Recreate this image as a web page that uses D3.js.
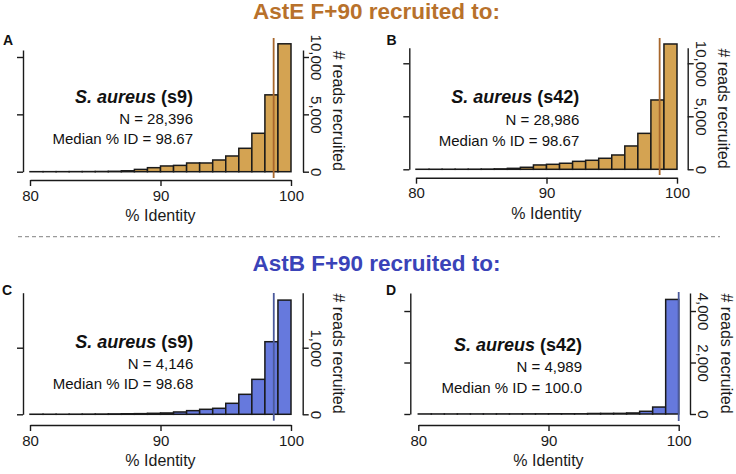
<!DOCTYPE html>
<html><head><meta charset="utf-8">
<script src="https://cdn.jsdelivr.net/npm/d3@7"></script>
<style>
html,body{margin:0;padding:0;background:#fff;}
svg{display:block;font-family:"Liberation Sans",Arial,Helvetica,sans-serif;}
</style></head>
<body>
<svg id="chart" width="736" height="474"></svg>
<script>
// ---------------- data ----------------
const binStarts = [80,81,82,83,84,85,86,87,88,89,90,91,92,93,94,95,96,97,98,99];
const binWidth = 1;
const countsA = [3,4,6,8,12,20,35,80,200,350,500,550,760,760,1020,1370,2040,3350,6700,11150];
const countsB = [3,4,6,8,12,20,40,90,190,410,470,570,750,850,1040,1350,2200,3390,6540,11820];
const countsC = [1,1,1,2,3,4,6,8,10,15,20,35,55,75,90,165,300,525,1090,1715];
const countsD = [2,2,2,3,3,3,4,4,5,6,8,8,8,20,22,25,40,105,270,4450];
const medians = [98.67, 98.67, 98.68, 100.0];
const panelLetters = ["A","B","C","D"];
const genomeNames = ["(s9)","(s42)","(s9)","(s42)"];
const nLabels = ["28,396","28,986","4,146","4,989"];
const medianLabels = ["98.67","98.67","98.68","100.0"];
const yTicks = [[0,5000,10000],[0,5000,10000],[0,1000],[0,2000,4000]];
const yAxisMax = [10610, 11470, 1826, 4700];
const xTicks = [80,90,100];
const xDomain = [80,100];
const titles = ["AstE F+90 recruited to:", "AstB F+90 recruited to:"];
const xLabel = "% Identity";
const yLabel = "# reads recruited";

// ---------------- layout / style ----------------
const groupStyle = [
  {fill:"#d4a352", median:"#a8672c", title:"#b8712b"},
  {fill:"#6679dd", median:"#4b5a9c", title:"#3a43b8"}
];
const panels = [
  {counts:countsA, g:0, x0:30, x1:291, base:171.7, top:50, lx:23, rx:303, xAxisY:180, letterX:3, letterY:45, textR:193, tY:[102.7,124,144.3], medTop:38, medBot:178, rLab:311, rTitle:333},
  {counts:countsB, g:0, x0:416, x1:677, base:169.3, top:47.7, lx:409.3, rx:687.7, xAxisY:177.7, letterX:386.5, letterY:45, textR:579.3, tY:[103.3,124.5,145.5], medTop:38, medBot:175, rLab:696, rTitle:718},
  {counts:countsC, g:1, x0:30, x1:291, base:414.3, top:292.7, lx:23, rx:302.7, xAxisY:425, letterX:2, letterY:295, textR:193.3, tY:[348.3,369.3,389.3], medTop:293, medBot:420.7, rLab:311, rTitle:333},
  {counts:countsD, g:1, x0:418.3, x1:678.7, base:414, top:293, lx:410.3, rx:690, xAxisY:425, letterX:386, letterY:295, textR:582, tY:[350.7,371.7,393.3], medTop:292, medBot:421, rLab:698, rTitle:721}
];
const titleY = [19, 270.7];
const titleX = 376.5;
const ink = "#1a1a1a";

const svg = d3.select("#chart");

// titles
titles.forEach((t,i)=>{
  svg.append("text").attr("x",titleX).attr("y",titleY[i])
    .attr("text-anchor","middle").attr("font-weight","bold")
    .attr("font-size",22.5).attr("fill",groupStyle[i].title).text(t);
});

// dashed separator
svg.append("line").attr("x1",18).attr("x2",720).attr("y1",236.7).attr("y2",236.7)
  .attr("stroke","#9a9a9a").attr("stroke-width",1.2).attr("stroke-dasharray","4,3");

panels.forEach((p,i)=>{
  const st = groupStyle[p.g];
  const g = svg.append("g");
  const x = d3.scaleLinear().domain(xDomain).range([p.x0,p.x1]);
  const y = d3.scaleLinear().domain([0,yAxisMax[i]]).range([p.base,p.top]);

  // bars
  g.selectAll("rect.bar").data(binStarts.map((b,k)=>({b, c:p.counts[k]})))
    .join("rect").attr("class","bar")
    .attr("x",d=>x(d.b)).attr("width",d=>x(d.b+binWidth)-x(d.b))
    .attr("y",d=>y(d.c)).attr("height",d=>y(0)-y(d.c))
    .attr("fill",st.fill).attr("stroke",ink).attr("stroke-width",1.5);

  // median line
  g.append("line").attr("x1",x(medians[i])).attr("x2",x(medians[i]))
    .attr("y1",p.medTop).attr("y2",p.medBot)
    .attr("stroke",st.median).attr("stroke-width",1.8);

  // left axis (no labels)
  const la = g.append("g").attr("transform",`translate(${p.lx},0)`)
    .call(d3.axisLeft(y).tickValues(yTicks[i]).tickFormat("").tickSize(6).tickSizeOuter(0));
  // right axis
  const ra = g.append("g").attr("transform",`translate(${p.rx},0)`)
    .call(d3.axisRight(y).tickValues(yTicks[i]).tickFormat(d3.format(",")).tickSize(6).tickSizeOuter(0));
  ra.selectAll("text").attr("x",null).attr("dy",null).attr("y",null)
    .attr("transform",`translate(${p.rLab-p.rx},0) rotate(90)`)
    .attr("text-anchor","middle").attr("font-size",15).attr("font-family",null).attr("fill",ink);

  // x axis
  const xa = g.append("g").attr("transform",`translate(0,${p.xAxisY})`)
    .call(d3.axisBottom(x).tickValues(xTicks).tickSize(6).tickSizeOuter(0).tickPadding(4));
  xa.selectAll("text").attr("font-size",15).attr("font-family",null).attr("fill",ink);

  [la,ra,xa].forEach(a=>{
    a.selectAll("path,line").attr("stroke",ink).attr("stroke-width",1.4);
  });

  // axis titles
  g.append("text").attr("x",(p.x0+p.x1)/2).attr("y",p.xAxisY+41)
    .attr("text-anchor","middle").attr("font-size",16).attr("fill",ink).text(xLabel);
  g.append("text").attr("transform",`translate(${p.rTitle},${(p.base+p.top)/2}) rotate(90)`)
    .attr("text-anchor","middle").attr("font-size",16).attr("fill",ink).text(yLabel);

  // panel letter
  g.append("text").attr("x",p.letterX).attr("y",p.letterY)
    .attr("font-weight","bold").attr("font-size",14).attr("fill","#111").text(panelLetters[i]);

  // annotation
  const t1 = g.append("text").attr("x",p.textR).attr("y",p.tY[0])
    .attr("text-anchor","end").attr("font-weight","bold").attr("font-size",18).attr("fill","#111");
  t1.append("tspan").attr("font-style","italic").text("S. aureus");
  t1.append("tspan").text(" " + genomeNames[i]);
  g.append("text").attr("x",p.textR).attr("y",p.tY[1]).attr("text-anchor","end")
    .attr("font-size",15).attr("fill","#111").text("N = " + nLabels[i]);
  g.append("text").attr("x",p.textR).attr("y",p.tY[2]).attr("text-anchor","end")
    .attr("font-size",15).attr("fill","#111").text("Median % ID = " + medianLabels[i]);
});
</script>
</body></html>
